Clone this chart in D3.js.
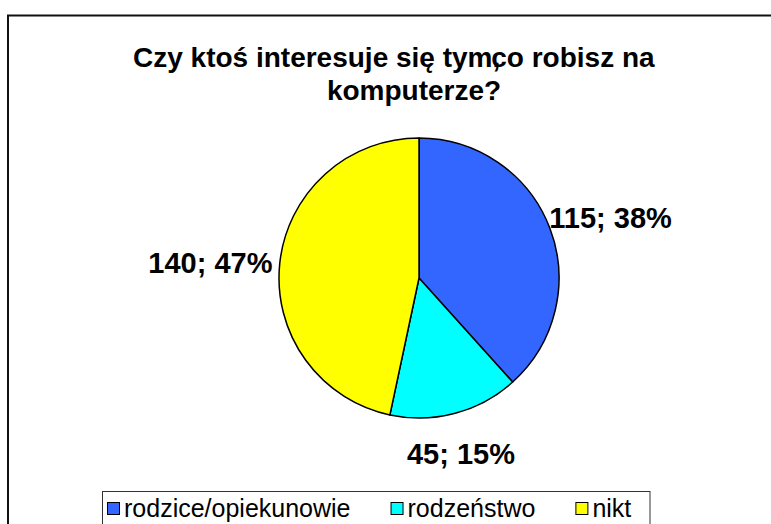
<!DOCTYPE html>
<html>
<head>
<meta charset="utf-8">
<script src="https://cdn.jsdelivr.net/npm/d3@7"></script>
<style>
  body { margin: 0; background: #fff; }
  text { font-family: Arial, "Liberation Sans", sans-serif; }
</style>
</head>
<body>
<div id="chart"></div>
<script>
// Data
var categories = ['rodzice/opiekunowie', 'rodzeństwo', 'nikt'];
var values = [115, 45, 140];
var colors = ['#3366FF', '#00FFFF', '#FFFF00'];
var titleStart = 'Czy ktoś interesuje się tym,';
var titleRest = 'co robisz na';
var titleLine2 = 'komputerze?';

var width = 771;
var height = 524;

var svg = d3.select('#chart').append('svg')
    .attr('width', width)
    .attr('height', height);

svg.append('rect')
    .attr('width', width)
    .attr('height', height)
    .attr('fill', 'white');

// outer chart border (runs off the right and bottom edge)
svg.append('rect')
    .attr('x', 8)
    .attr('y', 15.5)
    .attr('width', 820)
    .attr('height', 600)
    .attr('fill', 'none')
    .attr('stroke', '#111')
    .attr('stroke-width', 2);

// Title (the original renders "tym, co" squeezed together)
var title = svg.append('text')
    .attr('x', 133)
    .attr('y', 67)
    .attr('font-size', 28)
    .attr('font-weight', 'bold')
    .attr('fill', 'black');
title.append('tspan').text(titleStart);
title.append('tspan').attr('dx', -9).text(titleRest);

svg.append('text')
    .attr('x', 414)
    .attr('y', 100)
    .attr('text-anchor', 'middle')
    .attr('font-size', 28)
    .attr('font-weight', 'bold')
    .attr('fill', 'black')
    .text(titleLine2);

// Pie
var cx = 419, cy = 278, radius = 140;
var total = d3.sum(values);

var pie = d3.pie().sort(null).value(d => d);
var arc = d3.arc().innerRadius(0).outerRadius(radius);
var arcsData = pie(values);

var g = svg.append('g').attr('transform', `translate(${cx},${cy})`);

g.selectAll('path')
    .data(arcsData)
    .enter()
    .append('path')
    .attr('d', arc)
    .attr('fill', (d, i) => colors[i])
    .attr('stroke', 'black')
    .attr('stroke-width', 1.5)
    .attr('stroke-linejoin', 'round');

// Data labels "value; pct%"
var labels = g.selectAll('text.lbl')
    .data(arcsData)
    .enter()
    .append('text')
    .attr('class', 'lbl')
    .attr('font-size', 29)
    .attr('font-weight', 'bold')
    .attr('fill', 'black')
    .attr('text-anchor', 'middle')
    .text(d => d.value + '; ' + Math.round(d.value / total * 100) + '%');

labels.each(function(d) {
    var t = d3.select(this);
    var w = this.getComputedTextLength();
    var mid = (d.startAngle + d.endAngle) / 2;
    var dx = Math.sin(mid), dy = -Math.cos(mid);
    var R = radius + 8;
    var x = dx * R + dx * Math.abs(dx) * w / 2;
    var y = dy * (R + 30) + 14;
    t.attr('x', x).attr('y', y);
});

// Legend
var legend = svg.append('g');
var legendBox = legend.append('rect')
    .attr('x', 102.5)
    .attr('y', 491.5)
    .attr('height', 60)
    .attr('fill', 'white')
    .attr('stroke', '#333')
    .attr('stroke-width', 1);

var lx = 107;
categories.forEach(function(c, i) {
    legend.append('rect')
        .attr('x', lx + 0.5)
        .attr('y', 502.5)
        .attr('width', 12)
        .attr('height', 12)
        .attr('fill', colors[i])
        .attr('stroke', 'black')
        .attr('stroke-width', 1);
    var t = legend.append('text')
        .attr('x', lx + 17)
        .attr('y', 517)
        .attr('font-size', 25)
        .attr('fill', 'black')
        .text(c);
    lx += 17 + t.node().getComputedTextLength() + 40;
});
legendBox.attr('width', 650 - 102.5);
</script>
</body>
</html>
